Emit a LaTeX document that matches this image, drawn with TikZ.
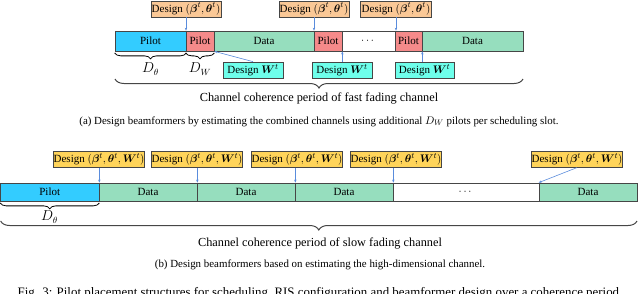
\documentclass[tikz,border=0pt]{standalone}
\usepackage{amsmath}
\usepackage{fontspec}
\setmainfont{Liberation Serif}
\usetikzlibrary{decorations.pathreplacing,arrows.meta}
\definecolor{pilotblue}{RGB}{51,204,255}
\definecolor{pilotred}{RGB}{245,138,138}
\definecolor{datagreen}{RGB}{150,222,190}
\definecolor{orangebox}{RGB}{250,200,150}
\definecolor{cyanbox}{RGB}{110,255,235}
\definecolor{goldbox}{RGB}{255,212,90}
\definecolor{arrblue}{RGB}{90,140,220}
\definecolor{edge}{RGB}{70,70,70}
\begin{document}
\begin{tikzpicture}[x=1pt,y=-1pt,
  seg/.style={draw=edge,line width=0.7pt,inner sep=0pt,minimum height=#1,font=\fontsize{11}{13}\selectfont},
  seg/.default=20pt,
  lbl/.style={draw=edge,line width=0.7pt,inner sep=0pt,minimum height=16pt,font=\fontsize{11}{13}\selectfont},
  arr/.style={draw=arrblue,line width=0.6pt,-{Stealth[length=3pt,width=2.4pt]}},
  smallbrace/.style={draw=black,line width=0.8pt,decorate,decoration={brace,mirror,amplitude=6pt}},
  bigbrace/.style={draw=edge,line width=1pt,decorate,decoration={brace,mirror,amplitude=9pt}},
  txt/.style={inner sep=0pt,font=\fontsize{12.3}{14}\selectfont},
  captext/.style={inner sep=0pt,font=\fontsize{10.9}{13}\selectfont},
  dlab/.style={inner sep=0pt,font=\fontsize{13.5}{15}\selectfont}]
\useasboundingbox (0,0) rectangle (640,293);
% ---------------- (a) ----------------
\node[seg,fill=pilotblue,minimum width=71pt] (p1) at (150.5,41) {Pilot};
\node[seg,fill=pilotred,minimum width=28pt] (p2) at (200,41) {Pilot};
\node[seg,fill=datagreen,minimum width=100pt] (d1) at (264,41) {Data};
\node[seg,fill=pilotred,minimum width=28pt] (p3) at (328,41) {Pilot};
\node[seg,fill=white,minimum width=53pt] (x1) at (368.5,41) {$\cdots$};
\node[seg,fill=pilotred,minimum width=27pt] (p4) at (408.5,41) {Pilot};
\node[seg,fill=datagreen,minimum width=101pt] (d2) at (472.5,41) {Data};
\node[lbl,fill=orangebox,minimum width=70pt] (o1) at (186,9) {Design $(\boldsymbol{\beta}^t,\boldsymbol{\theta}^t)$};
\node[lbl,fill=orangebox,minimum width=70pt] (o2) at (314,9) {Design $(\boldsymbol{\beta}^t,\boldsymbol{\theta}^t)$};
\node[lbl,fill=orangebox,minimum width=71pt] (o3) at (396,9) {Design $(\boldsymbol{\beta}^t,\boldsymbol{\theta}^t)$};
\draw[arr] (o1.south) -- (o1.south |- p2.north);
\draw[arr] (o2.south) -- (o2.south |- p3.north);
\draw[arr] (o3.south) -- (o3.south |- p4.north);
\node[lbl,fill=cyanbox,minimum width=60pt] (w1) at (253,70) {Design $\boldsymbol{W}^t$};
\node[lbl,fill=cyanbox,minimum width=60pt] (w2) at (342,70) {Design $\boldsymbol{W}^t$};
\node[lbl,fill=cyanbox,minimum width=59pt] (w3) at (424.5,70) {Design $\boldsymbol{W}^t$};
\coordinate (w2t) at (p3.south east |- w2.north);
\coordinate (w3t) at (p4.south east |- w3.north);
\draw[arr] (w1.north) -- (p2.south east);
\draw[arr] (w2t) -- (p3.south east);
\draw[arr] (w3t) -- (p4.south east);
\draw[smallbrace] ([yshift=-1.5pt]p1.south west) -- ([yshift=-1.5pt]p1.south east);
\draw[smallbrace] ([yshift=-1.5pt]p2.south west) -- ([yshift=-1.5pt]p2.south east);
\node[dlab] (dth1) at (150.5,69) {$D_\theta$};
\node[dlab] (dw1) at (200,69) {$D_W$};
\coordinate (ba1) at (115,79);
\coordinate (bb1) at (523,79);
\draw[bigbrace] (ba1) -- (bb1);
\node[txt] (t1) at (319,98) {Channel coherence period of fast fading channel};
\node[captext] (c1) at (319,121.5) {(a) Design beamformers by estimating the combined channels using additional $D_W$ pilots per scheduling slot.};
% ---------------- (b) ----------------
\node[seg=18pt,fill=pilotblue,minimum width=98.5pt] (q1) at (49.75,192) {Pilot};
\node[seg=18pt,fill=datagreen,minimum width=98pt] (e1) at (148,192) {Data};
\node[seg=18pt,fill=datagreen,minimum width=98pt] (e2) at (246,192) {Data};
\node[seg=18pt,fill=datagreen,minimum width=98pt] (e3) at (344,192) {Data};
\node[seg=18pt,fill=white,minimum width=146pt] (x2) at (466,192) {$\cdots$};
\node[seg=18pt,fill=datagreen,minimum width=98pt] (e4) at (588,192) {Data};
\node[lbl,fill=goldbox,minimum width=90pt,minimum height=15.5pt] (y1) at (99,159.5) {Design $(\boldsymbol{\beta}^t,\boldsymbol{\theta}^t,\boldsymbol{W}^t)$};
\node[lbl,fill=goldbox,minimum width=89pt,minimum height=15.5pt] (y2) at (197,159.5) {Design $(\boldsymbol{\beta}^t,\boldsymbol{\theta}^t,\boldsymbol{W}^t)$};
\node[lbl,fill=goldbox,minimum width=90pt,minimum height=15.5pt] (y3) at (297,159.5) {Design $(\boldsymbol{\beta}^t,\boldsymbol{\theta}^t,\boldsymbol{W}^t)$};
\node[lbl,fill=goldbox,minimum width=90pt,minimum height=15.5pt] (y4) at (396,159.5) {Design $(\boldsymbol{\beta}^t,\boldsymbol{\theta}^t,\boldsymbol{W}^t)$};
\node[lbl,fill=goldbox,minimum width=90pt,minimum height=15.5pt] (y5) at (577,159.5) {Design $(\boldsymbol{\beta}^t,\boldsymbol{\theta}^t,\boldsymbol{W}^t)$};
\coordinate (y1b) at (q1.north east |- y1.south);
\coordinate (y2b) at (e1.north east |- y2.south);
\coordinate (y3b) at (e2.north east |- y3.south);
\coordinate (y4b) at (e3.north east |- y4.south);
\draw[arr] (y1b) -- (q1.north east);
\draw[arr] (y2b) -- (e1.north east);
\draw[arr] (y3b) -- (e2.north east);
\draw[arr] (y4b) -- (e3.north east);
\draw[arr] (y5.south) -- (e4.north west);
\draw[smallbrace] ([yshift=-1.5pt]q1.south west) -- ([yshift=-1.5pt]q1.south east);
\node[dlab] (dth2) at (49.5,217) {$D_\theta$};
\coordinate (ba2) at (0.6,221);
\coordinate (bb2) at (637,221);
\draw[bigbrace] (ba2) -- (bb2);
\node[txt] (t2) at (320,243) {Channel coherence period of slow fading channel};
\node[captext] (c2) at (320,264.5) {(b) Design beamformers based on estimating the high-dimensional channel.};
\node[inner sep=0pt,anchor=base,font=\fontsize{12.9}{14}\selectfont] (fig) at (320,296) {Fig. 3: Pilot placement structures for scheduling, RIS configuration and beamformer design over a coherence period.};
\end{tikzpicture}
\end{document}
